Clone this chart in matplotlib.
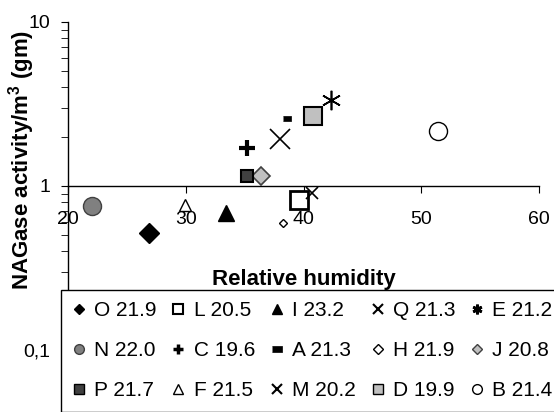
import matplotlib
matplotlib.use('Agg')
import matplotlib.pyplot as plt
from matplotlib.ticker import FixedLocator, FixedFormatter, NullFormatter

plt.rcParams['font.family'] = ['Liberation Sans', 'DejaVu Sans']
plt.rcParams['mathtext.default'] = 'regular'

# sites (legend labels), relative humidity (%) and NAGase activity per m3
labels = ['O 21.9', 'L 20.5', 'I 23.2', 'Q 21.3', 'E 21.2',
          'N 22.0', 'C 19.6', 'A 21.3', 'H 21.9', 'J 20.8',
          'P 21.7', 'F 21.5', 'M 20.2', 'D 19.9', 'B 21.4']
humidity = [26.9, 39.6, 33.4, 38.0, 42.3,
            22.0, 35.2, 38.6, 38.3, 36.4,
            35.2, 29.9, 40.7, 40.8, 51.4]
activity = [0.52, 0.82, 0.68, 1.93, 3.34,
            0.755, 1.70, 2.60, 0.595, 1.15,
            1.15, 0.766, 0.906, 2.67, 2.16]

rect = [(-1, -0.6), (1, -0.6), (1, 0.6), (-1, 0.6)]
# marker, size, face, edge, edge width, legend edge width
styles = [
    ('D', 10, 'black', 'black', 1, 1),
    ('s', 13, 'white', 'black', 2, 1.5),
    ('^', 11, 'black', 'black', 1, 1),
    ('x', 14, 'black', 'black', 1.2, 1.5),
    ((6, 2, 0), 14, 'black', 'black', 1.2, 2),
    ('o', 13, '#808080', '#404040', 1, 1),
    ('+', 11, 'black', 'black', 3, 2.5),
    (rect, 6, 'black', 'black', 0.5, 0.5),
    ('D', 4.5, 'white', 'black', 1, 1),
    ('D', 9, '#c0c0c0', '#404040', 1.2, 1),
    ('s', 9, '#404040', 'black', 1.5, 1),
    ('^', 9, 'white', 'black', 1, 1),
    ('x', 9, 'black', 'black', 1.2, 1.5),
    ('s', 13, '#c0c0c0', 'black', 1.5, 1),
    ('o', 13, 'white', 'black', 1, 1),
]

fig = plt.figure(figsize=(5.54, 4.12), dpi=100)
ax = fig.add_axes([68/554, 1-350/412, 471/554, 328/412])

handles = []
for lab, x, y, (m, ms, fc, ec, lw, _) in zip(labels, humidity, activity, styles):
    h, = ax.plot([x], [y], linestyle='none', marker=m, markersize=ms,
                 markerfacecolor=fc, markeredgecolor=ec, markeredgewidth=lw,
                 color=ec, label=lab)
    handles.append(h)

ax.set_yscale('log')
ax.set_ylim(0.1, 10)
ax.set_xlim(20, 60)

ax.spines['top'].set_visible(False)
ax.spines['right'].set_visible(False)
ax.spines['bottom'].set_position(('data', 1))
for s in ax.spines.values():
    s.set_linewidth(1)

ax.xaxis.set_major_locator(FixedLocator([20, 30, 40, 50, 60]))
ax.tick_params(axis='x', direction='out', length=5, pad=13, labelsize=14)
ax.yaxis.set_major_locator(FixedLocator([0.1, 1, 10]))
ax.yaxis.set_major_formatter(FixedFormatter(['0,1', '1', '10']))
ax.yaxis.set_minor_locator(FixedLocator([k * d for d in (0.1, 1) for k in range(2, 10)]))
ax.yaxis.set_minor_formatter(NullFormatter())
ax.tick_params(axis='y', which='both', direction='out', length=5, pad=8, labelsize=14)

ax.set_xlabel('Relative humidity', fontsize=16, fontweight='bold')
ax.xaxis.set_label_coords(0.5, 0.247)
ax.set_ylabel('NAGase activity/m$^3$ (gm)', fontsize=16, fontweight='bold')
ax.yaxis.set_label_coords(-0.065, 0.579)

# legend fills row by row in the picture
order = [r * 5 + c for c in range(5) for r in range(3)]
leg = ax.legend([handles[i] for i in order], [labels[i] for i in order],
                ncol=5, loc='upper left', bbox_to_anchor=(61/554, 1-290/412),
                bbox_transform=fig.transFigure, borderaxespad=0,
                fontsize=15, frameon=True, fancybox=False, edgecolor='black',
                framealpha=1, handlelength=0.6, handletextpad=0.43,
                columnspacing=0.75, labelspacing=1.0, borderpad=0.55)
leg.get_frame().set_linewidth(1)
for h, i in zip(leg.legend_handles, order):
    h.set_markersize(5.5 if h.get_marker() == 'D' else 7)
    h.set_markeredgewidth(styles[i][5])

fig.savefig('out.png', dpi=100)
